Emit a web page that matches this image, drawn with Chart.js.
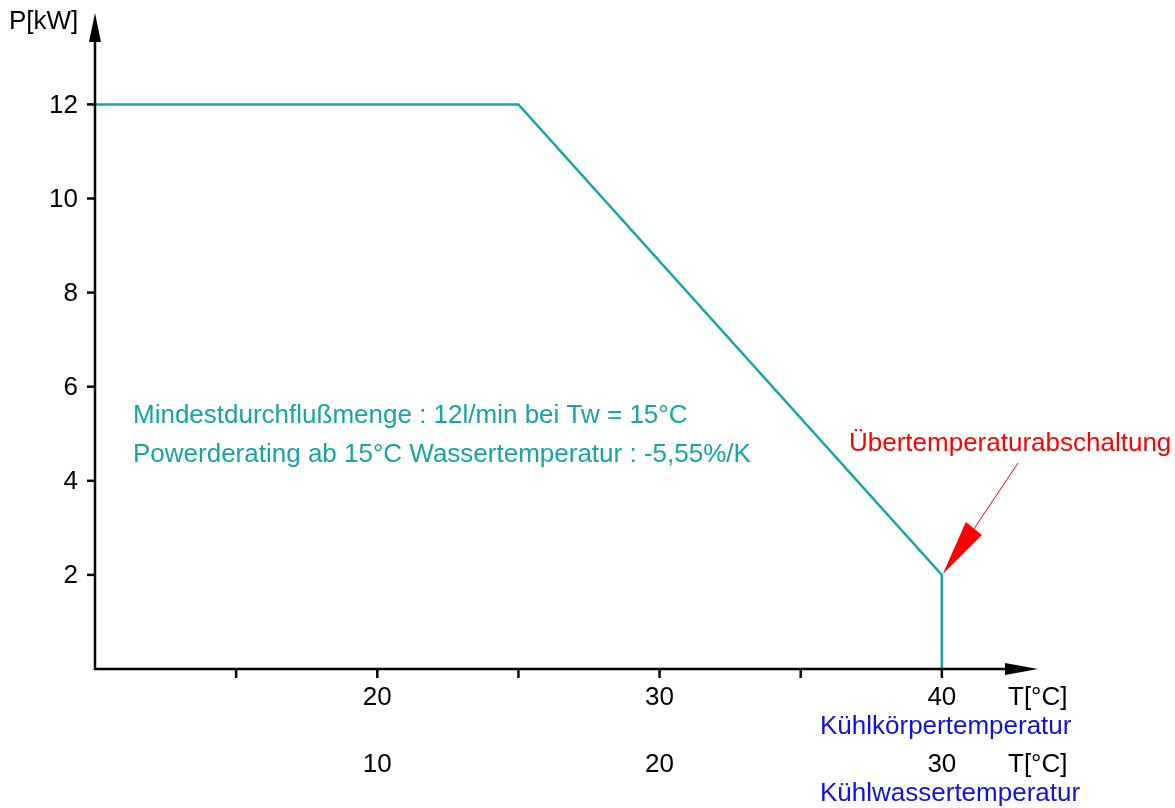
<!DOCTYPE html>
<html>
<head>
<meta charset="utf-8">
<script src="https://cdn.jsdelivr.net/npm/chart.js@4/dist/chart.umd.min.js"></script>
<style>
  html, body { margin: 0; padding: 0; background: #fff; }
  #wrap { width: 1175px; height: 808px; }
</style>
</head>
<body>
<div id="wrap"><canvas id="chart" width="1175" height="808"></canvas></div>
<script>
// Kennlinie: Kühlkörpertemperatur [°C] -> Leistung [kW]
const tempKK = [10, 25, 40, 40];
const powerKW = [12, 12, 2, 0];

// Achsen
const yTicks = [2, 4, 6, 8, 10, 12];
const xTickMarks = [15, 20, 25, 30, 35, 40];
const xLabelsKK = [20, 30, 40];      // Kühlkörpertemperatur
const xLabelsKW = [10, 20, 30];      // Kühlwassertemperatur (gleiche Positionen)
const notes = [
    'Mindestdurchflußmenge : 12l/min bei Tw = 15°C',
    'Powerderating ab 15°C Wassertemperatur : -5,55%/K'
];

const teal = '#14a5a5';
const FONT = '"Liberation Sans", Arial, sans-serif';

const axesPlugin = {
    id: 'axesPlugin',
    afterDraw(chart) {
        const ctx = chart.ctx;
        const xs = chart.scales.x, ys = chart.scales.y;
        const x0 = xs.left, y0 = ys.bottom;
        ctx.save();
        ctx.strokeStyle = '#000';
        ctx.fillStyle = '#000';
        ctx.lineWidth = 2.5;

        // y-Achse mit Pfeil
        ctx.beginPath();
        ctx.moveTo(x0, y0 + 1);
        ctx.lineTo(x0, ys.top + 20);
        ctx.stroke();
        ctx.beginPath();
        ctx.moveTo(x0, ys.top - 2);
        ctx.lineTo(x0 - 6, ys.top + 27);
        ctx.lineTo(x0 + 6, ys.top + 27);
        ctx.closePath();
        ctx.fill();

        // x-Achse mit Pfeil
        ctx.beginPath();
        ctx.moveTo(x0 - 1, y0);
        ctx.lineTo(xs.right - 20, y0);
        ctx.stroke();
        ctx.beginPath();
        ctx.moveTo(xs.right + 3, y0);
        ctx.lineTo(xs.right - 30, y0 - 6);
        ctx.lineTo(xs.right - 30, y0 + 6);
        ctx.closePath();
        ctx.fill();

        // y-Ticks
        ctx.font = '26px ' + FONT;
        ctx.textAlign = 'right';
        ctx.textBaseline = 'middle';
        yTicks.forEach(v => {
            const py = ys.getPixelForValue(v);
            ctx.beginPath();
            ctx.moveTo(x0 - 8, py);
            ctx.lineTo(x0, py);
            ctx.stroke();
            ctx.fillText(String(v), x0 - 17, py + 1);
        });
        ctx.textAlign = 'left';
        ctx.fillText('P[kW]', 9, 22);

        // x-Ticks
        xTickMarks.forEach(v => {
            const px = xs.getPixelForValue(v);
            ctx.beginPath();
            ctx.moveTo(px, y0);
            ctx.lineTo(px, y0 + 9);
            ctx.stroke();
        });
        ctx.textAlign = 'center';
        xLabelsKK.forEach(v => {
            ctx.fillText(String(v), xs.getPixelForValue(v), y0 + 29);
        });
        xLabelsKW.forEach((v, i) => {
            ctx.fillText(String(v), xs.getPixelForValue(xLabelsKK[i]), y0 + 96);
        });
        ctx.textAlign = 'left';
        ctx.fillText('T[°C]', 1008, y0 + 29);
        ctx.fillText('T[°C]', 1008, y0 + 96);

        ctx.fillStyle = '#1010ee';
        ctx.fillText('Kühlkörpertemperatur', 820, y0 + 58);
        ctx.fillText('Kühlwassertemperatur', 820, y0 + 125);

        // Hinweise
        ctx.fillStyle = teal;
        ctx.fillText(notes[0], 133, 416);
        ctx.fillText(notes[1], 133, 455);

        // Übertemperaturabschaltung
        ctx.fillStyle = '#ff0000';
        ctx.strokeStyle = '#ff0000';
        ctx.fillText('Übertemperaturabschaltung', 849, 444);
        const tipX = xs.getPixelForValue(tempKK[2]);
        const tipY = ys.getPixelForValue(powerKW[2]);
        ctx.lineWidth = 1;
        ctx.beginPath();
        ctx.moveTo(1018, 463);
        ctx.lineTo(tipX + 30, tipY - 43);
        ctx.stroke();
        ctx.beginPath();
        ctx.moveTo(tipX + 1, tipY - 1);
        ctx.lineTo(tipX + 24, tipY - 53);
        ctx.lineTo(tipX + 40, tipY - 40);
        ctx.closePath();
        ctx.fill();
        ctx.restore();
    }
};

new Chart(document.getElementById('chart'), {
    type: 'scatter',
    data: {
        datasets: [{
            data: tempKK.map((t, i) => ({ x: t, y: powerKW[i] })),
            showLine: true,
            borderColor: teal,
            borderWidth: 2.5,
            pointRadius: 0,
            tension: 0
        }]
    },
    options: {
        responsive: false,
        animation: false,
        layout: { padding: { left: 95, right: 140, top: 15, bottom: 139 } },
        plugins: { legend: { display: false }, tooltip: { enabled: false } },
        scales: {
            x: { type: 'linear', display: false, min: 10, max: 43.3 },
            y: { type: 'linear', display: false, min: 0, max: 13.9 }
        }
    },
    plugins: [axesPlugin]
});
</script>
</body>
</html>
